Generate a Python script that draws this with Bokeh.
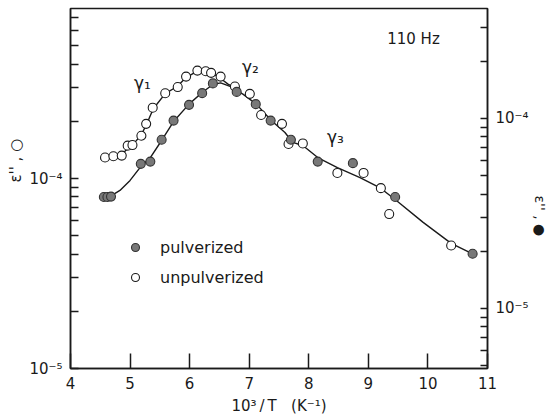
from bokeh.plotting import figure
from bokeh.models import (Range1d, LogScale, LogAxis, FixedTicker, CustomJSTickFormatter,
                          Label, Legend, LegendItem, Title)
from bokeh.embed import file_html
from bokeh.resources import INLINE

# ---- data ----
# unpulverized: epsilon'' on the left axis
unpulv_x = [4.58, 4.72, 4.86, 4.96, 5.04, 5.19, 5.27, 5.38, 5.59, 5.80, 5.94, 6.13, 6.27,
            6.36, 6.52, 6.76, 7.01, 7.20, 7.55, 7.66, 7.90, 8.48, 8.92, 9.21, 9.35, 10.39]
unpulv_y = [1.29e-4, 1.31e-4, 1.32e-4, 1.49e-4, 1.50e-4, 1.68e-4, 1.94e-4, 2.36e-4, 2.81e-4,
            3.03e-4, 3.44e-4, 3.70e-4, 3.67e-4, 3.60e-4, 3.44e-4, 3.05e-4, 2.79e-4, 2.16e-4,
            1.94e-4, 1.52e-4, 1.53e-4, 1.07e-4, 1.07e-4, 8.9e-5, 6.5e-5, 4.44e-5]
# pulverized: epsilon'' on the right axis
pulv_x = [4.56, 4.62, 4.68, 5.18, 5.34, 5.53, 5.73, 5.99, 6.21, 6.39, 6.79, 7.11, 7.36,
          7.70, 8.15, 8.74, 9.45, 10.75]
pulv_y = [3.86e-5, 3.86e-5, 3.88e-5, 5.77e-5, 5.93e-5, 7.73e-5, 9.75e-5, 1.18e-4, 1.36e-4,
          1.53e-4, 1.38e-4, 1.19e-4, 9.75e-5, 7.73e-5, 5.93e-5, 5.82e-5, 3.86e-5, 1.94e-5]

# drawn curves
unpulv_fit_x = [4.50, 4.66, 4.83, 4.96, 5.08, 5.19, 5.29, 5.39, 5.59, 5.79, 5.94, 6.12, 6.27,
                6.39, 6.52, 6.65, 6.77]
unpulv_fit_y = [1.27e-4, 1.29e-4, 1.31e-4, 1.44e-4, 1.55e-4, 1.70e-4, 1.97e-4, 2.33e-4, 2.80e-4,
                3.05e-4, 3.40e-4, 3.66e-4, 3.68e-4, 3.57e-4, 3.36e-4, 3.13e-4, 3.01e-4]
pulv_fit_x = [4.66, 4.83, 5.00, 5.18, 5.34, 5.53, 5.73, 5.99, 6.21, 6.39, 6.52, 6.69, 6.90,
              7.12, 7.37, 7.60, 7.73, 7.90, 8.15, 8.48, 8.86, 9.19, 9.47, 9.92, 10.39, 10.75]
pulv_fit_y = [3.88e-5, 4.18e-5, 4.72e-5, 5.58e-5, 6.23e-5, 7.66e-5, 9.64e-5, 1.19e-4, 1.37e-4,
              1.51e-4, 1.54e-4, 1.47e-4, 1.34e-4, 1.19e-4, 9.76e-5, 8.44e-5, 7.48e-5, 7.21e-5,
              6.23e-5, 5.52e-5, 4.89e-5, 4.33e-5, 3.70e-5, 2.84e-5, 2.20e-5, 1.94e-5]

x_ticks = [4, 5, 6, 7, 8, 9, 10, 11]
left_major = [1e-5, 1e-4, 1e-3]
left_minor = [2e-5, 3e-5, 4e-5, 5e-5, 6e-5, 7e-5, 8e-5, 9e-5,
              2e-4, 3e-4, 4e-4, 5e-4, 6e-4, 7e-4, 8e-4, 9e-4]
right_major = [1e-5, 1e-4]
right_minor = [5e-6, 6e-6, 7e-6, 8e-6, 9e-6, 2e-5, 3e-5, 4e-5, 5e-5, 6e-5, 7e-5, 8e-5, 9e-5,
               2e-4, 3e-4]

FONT = "DejaVu Sans"
INK = "#1a1a1a"

p = figure(width=549, height=417, x_range=Range1d(4, 11),
           y_range=Range1d(1e-5, 10 ** -3.105), y_axis_type="log",
           output_backend="svg", toolbar_location=None,
           min_border_left=70, min_border_right=57, min_border_top=8, min_border_bottom=49)
p.extra_y_ranges = {"right": Range1d(10 ** -5.316, 10 ** -3.421)}
p.extra_y_scales = {"right": LogScale()}
p.xgrid.visible = False
p.ygrid.visible = False
p.outline_line_color = INK
p.outline_line_width = 1.5
p.background_fill_color = "white"
p.border_fill_color = "white"

sup_code = """
const sup = {"-":"\u207b","0":"\u2070","1":"\u00b9","2":"\u00b2","3":"\u00b3","4":"\u2074",
             "5":"\u2075","6":"\u2076","7":"\u2077","8":"\u2078","9":"\u2079"};
const e = Math.round(Math.log10(tick));
return "10" + String(e).split("").map(c => sup[c]).join("");
"""

def style_axis(ax, tick_len):
    ax.major_tick_in = tick_len
    ax.major_tick_out = 0
    ax.minor_tick_in = tick_len
    ax.minor_tick_out = 0
    ax.axis_line_width = 1.5
    ax.axis_line_color = INK
    ax.major_tick_line_width = 1.5
    ax.minor_tick_line_width = 1.5
    ax.major_tick_line_color = INK
    ax.minor_tick_line_color = INK
    ax.major_label_text_font = FONT
    ax.major_label_text_font_size = "15px"
    ax.major_label_text_color = INK
    ax.major_label_standoff = 8

xa = p.xaxis[0]
style_axis(xa, 15)
xa.ticker = FixedTicker(ticks=x_ticks)
xa.minor_tick_line_color = None
xa.axis_label = "10\u00b3\u2009/\u2009T\u00a0\u00a0\u00a0(K\u207b\u00b9)"
xa.axis_label_text_font = FONT
xa.axis_label_text_font_style = "normal"
xa.axis_label_text_font_size = "15px"
xa.axis_label_text_color = INK
xa.axis_label_standoff = 5

ya = p.yaxis[0]
style_axis(ya, 8)
ya.ticker = FixedTicker(ticks=left_major, minor_ticks=left_minor)
ya.formatter = CustomJSTickFormatter(code=sup_code)

ra = LogAxis(y_range_name="right",
             ticker=FixedTicker(ticks=right_major, minor_ticks=right_minor),
             formatter=CustomJSTickFormatter(code=sup_code))
style_axis(ra, 7)
p.add_layout(ra, "right")

# axis titles on the side panels
p.add_layout(Title(text="\u03b5'' ,  \u25cb", align="left", offset=186, standoff=4,
                   text_font=FONT, text_font_size="15px", text_font_style="normal",
                   text_color=INK), "left")
p.add_layout(Title(text="\u03b5'' ,  \u25cf", align="left", offset=187, standoff=0,
                   text_font=FONT, text_font_size="14px", text_font_style="normal",
                   text_color=INK), "right")

# curves
p.line(unpulv_fit_x, unpulv_fit_y, line_color=INK, line_width=1.4)
p.line(pulv_fit_x, pulv_fit_y, line_color=INK, line_width=1.4, y_range_name="right")

# points
r_open = p.scatter(unpulv_x, unpulv_y, marker="circle", size=9, fill_color="white",
                   line_color=INK, line_width=1.1)
r_fill = p.scatter(pulv_x, pulv_y, marker="circle", size=9, fill_color="#787878",
                   line_color="#333333", line_width=1.1, y_range_name="right")

legend = Legend(items=[LegendItem(label="pulverized", renderers=[r_fill]),
                       LegendItem(label="unpulverized", renderers=[r_open])],
                location=(55, 81), border_line_color=None, background_fill_alpha=0,
                padding=0, margin=0, spacing=10, glyph_height=20, glyph_width=20,
                label_height=20, label_standoff=15, label_text_font=FONT,
                label_text_font_size="16px", label_text_color=INK)
p.add_layout(legend)

def lab(x, y, text, size="16px", angle=0.0):
    p.add_layout(Label(x=x, y=y, x_units="screen", y_units="screen", text=text,
                       text_font=FONT, text_font_size=size, text_color=INK,
                       text_align="center", text_baseline="middle", angle=angle))

lab(343, 330, "110 Hz", "15px")
lab(72, 286, "\u03b3\u2081", "17px")
lab(180, 302, "\u03b3\u2082", "17px")
lab(265, 232, "\u03b3\u2083", "17px")

open("out.html", "w").write(file_html(p, INLINE))
